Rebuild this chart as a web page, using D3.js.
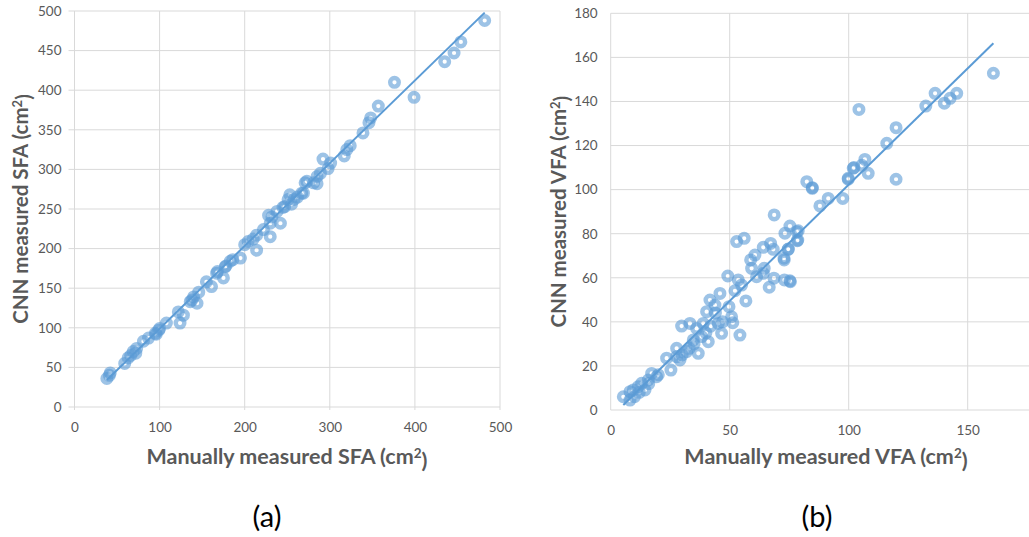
<!DOCTYPE html>
<html>
<head>
<meta charset="utf-8">
<script src="https://cdn.jsdelivr.net/npm/d3@7"></script>
<style>
  body { margin: 0; background: #fff; }
  svg { display: block; }
</style>
</head>
<body>
<div id="chart"></div>
<script>
// (a) subcutaneous fat area: manual vs CNN
const sfaManual = [482,454,446,435,376,399,357,348,346,339,324,320,317,301,292,298,289,285,281,271,267,253,251,255,245,238,228,
  42,38,59,63,69,73,81,87,95,99,108,122,124,128,136,140,144,155,161,167,175,177,183,195,200,204,214,214,222,230,230,232,242,247,269,273,285,
  41,66,72,96,100,138,146,168,178,186,210,262,258];
const sfaCnn = [488,461,447,436,410,391,380,365,359,346,330,325,317,308,313,301,295,291,283,283,270,268,262,256,252,247,242,
  43,36,55,62,70,74,83,87,93,97,106,120,106,116,133,139,131,158,152,169,163,177,184,188,205,209,198,217,224,232,215,240,232,253,270,285,282,
  40,65,68,92,99,135,145,171,178,186,212,265,262];

// (b) visceral fat area: manual vs CNN
const vfaManual = [101.9,105.5,99.8,82.4,84.7,91.4,97.5,87.9,68.7,75.3,73.2,78.6,78.2,52.9,56.1,64.1,67.2,68.3,74.6,60.6,58.8,59.2,64.5,72.9,
  61.3,64.1,68.6,66.6,75.5,49.2,53.6,55,52.2,56.8,45.9,41.7,43.8,40.3,49.7,50.8,51.3,54.3,45.2,46.6,38.9,36.1,41,38.2,29.8,33.3,34.7,36.8,
  31.9,27.7,29.1,27.7,23.5,25.3,17.2,19.3,15.8,13,11.6,9.5,8.1,5.3,8.1,14.4,
  160.8,145.4,142.6,140.2,136.3,132.4,104.3,119.9,116,106.8,102.2,108.2,99.8,119.9,84.7,74.6,72.8,75.3,73,78.4,78.8,
  40,42,44,47,35,33,30,12,10,20,16];
const vfaCnn = [109.7,111,105.1,103.6,100.6,96,96,92.6,88.5,83.5,80.2,77.1,80.9,76.4,77.9,73.8,75.6,72.9,72.9,70.3,68.1,64.3,64.3,68.1,
  60.5,62,59.8,55.7,58.2,60.8,59,56.7,54.1,49.5,52.9,49.9,47.6,44.6,46.9,42.3,39.6,34,39.3,34.8,39.3,37,31,33.3,38.1,39.3,31.8,25.7,
  26.5,28,22.7,24.2,23.5,18.1,16.6,15.1,13.6,12.1,10.6,9.1,8.3,6,4.5,9.1,
  152.8,143.7,141.4,139.2,143.7,137.9,136.4,128.1,121,113.7,110,107.4,104.7,104.7,100.9,73,68.9,58.6,59,76.8,81.3,
  35,38,44,40,30,28,25,8,6,16,12];

// linear trendlines: [slope, intercept]
const sfaTrend = [1.0445, -5.5];
const vfaTrend = [1.0556, -3.3];

const sfaXTicks = [0, 100, 200, 300, 400, 500];
const sfaYTicks = [0, 50, 100, 150, 200, 250, 300, 350, 400, 450, 500];
const vfaXTicks = [0, 50, 100, 150];
const vfaYTicks = [0, 20, 40, 60, 80, 100, 120, 140, 160, 180];

const W = 1029, H = 537;
const blue = "#5B9BD5", grid = "#D9D9D9", textGray = "#595959";
const font = "Lato, 'Open Sans', sans-serif";

const svg = d3.select("#chart").append("svg")
  .attr("width", W).attr("height", H);

svg.append("defs").append("clipPath").attr("id", "page")
  .append("rect").attr("width", W).attr("height", H);

const panels = [
  { xs: sfaManual, ys: sfaCnn, trend: sfaTrend, xTicks: sfaXTicks, yTicks: sfaYTicks,
    xDom: [0, 500], yDom: [0, 500], xRange: [74.5, 500], yRange: [407, 11], yTickLen: 6,
    name: "SFA", label: "(a)", xTitleX: 287, yTitleX: 28, capX: 267 },
  { xs: vfaManual, ys: vfaCnn, trend: vfaTrend, xTicks: vfaXTicks, yTicks: vfaYTicks,
    xDom: [0, 200], yDom: [0, 180], xRange: [610.7, 1086.7], yRange: [410, 13.3], yTickLen: 0,
    name: "VFA", label: "(b)", xTitleX: 826, yTitleX: 566, capX: 817 }
];

panels.forEach(p => {
  const x = d3.scaleLinear().domain(p.xDom).range(p.xRange);
  const y = d3.scaleLinear().domain(p.yDom).range(p.yRange);
  const g = svg.append("g").attr("clip-path", "url(#page)");

  // gridlines
  g.append("g").selectAll("line").data(p.yTicks).join("line")
    .attr("x1", p.xRange[0] - p.yTickLen).attr("x2", p.xRange[1])
    .attr("y1", d => y(d)).attr("y2", d => y(d))
    .attr("stroke", grid).attr("stroke-width", 1);
  g.append("g").selectAll("line").data(p.xTicks).join("line")
    .attr("x1", d => x(d)).attr("x2", d => x(d))
    .attr("y1", p.yRange[1]).attr("y2", p.yRange[0] + (p.yTickLen ? 3 : 0))
    .attr("stroke", grid).attr("stroke-width", 1);

  // tick labels via d3 axes
  const yAxis = g.append("g").attr("transform", `translate(${p.xRange[0]},0)`)
    .call(d3.axisLeft(y).tickValues(p.yTicks).tickSize(0).tickPadding(13));
  const xAxis = g.append("g").attr("transform", `translate(0,${p.yRange[0]})`)
    .call(d3.axisBottom(x).tickValues(p.xTicks).tickSize(0).tickPadding(15));
  [yAxis, xAxis].forEach(a => {
    a.select(".domain").remove();
    a.selectAll("text").attr("fill", textGray).style("font-family", font).style("font-size", "13.5px");
  });

  // markers
  const pts = d3.zip(p.xs, p.ys);
  g.append("g").selectAll("circle").data(pts).join("circle")
    .attr("cx", d => x(d[0])).attr("cy", d => y(d[1])).attr("r", 4.3)
    .attr("fill", "none").attr("stroke", blue)
    .attr("stroke-width", 4.4).attr("stroke-opacity", 0.6);

  // trendline
  const [x0, x1] = d3.extent(p.xs);
  const f = v => p.trend[0] * v + p.trend[1];
  g.append("line")
    .attr("x1", x(x0)).attr("y1", y(f(x0)))
    .attr("x2", x(x1)).attr("y2", y(f(x1)))
    .attr("stroke", blue).attr("stroke-width", 2);

  // axis titles
  const yMid = (p.yRange[0] + p.yRange[1]) / 2;
  const yt = svg.append("text")
    .attr("transform", `translate(${p.yTitleX},${yMid}) rotate(-90)`)
    .attr("text-anchor", "middle").attr("fill", textGray)
    .style("font-family", font).style("font-weight", "bold").style("font-size", "20.5px");
  yt.append("tspan").text(`CNN measured ${p.name} (cm`);
  yt.append("tspan").text("2").attr("dy", "-0.45em").style("font-size", "13px");
  yt.append("tspan").text(")").attr("dy", "0.45em");

  const xt = svg.append("text")
    .attr("x", p.xTitleX).attr("y", 464)
    .attr("text-anchor", "middle").attr("fill", textGray)
    .style("font-family", font).style("font-weight", "bold").style("font-size", "21.5px");
  xt.append("tspan").text(`Manually measured ${p.name} (cm`);
  xt.append("tspan").text("2").attr("dy", "-0.45em").style("font-size", "13.5px");
  xt.append("tspan").text(")").attr("dy", "0.45em");

  svg.append("text")
    .attr("x", p.capX).attr("y", 527)
    .attr("text-anchor", "middle").attr("fill", "#000")
    .style("font-family", font).style("font-size", "29px")
    .text(p.label);
});
</script>
</body>
</html>
